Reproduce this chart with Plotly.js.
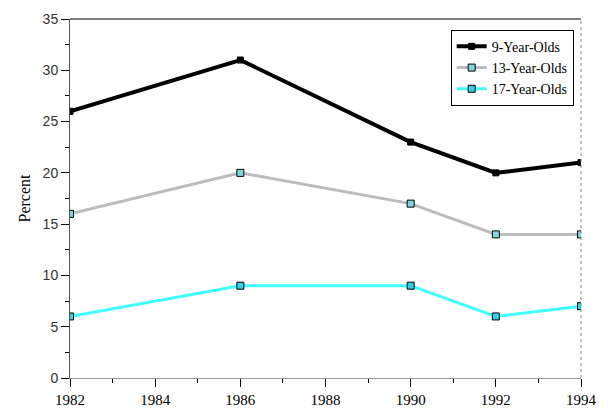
<!DOCTYPE html>
<html>
<head>
<meta charset="utf-8">
<script src="https://cdn.plot.ly/plotly-3.0.1.min.js"></script>
<style>html,body{margin:0;padding:0;background:#fff;}#chart{width:612px;height:415px;}</style>
</head>
<body>
<div id="chart"></div>
<script>
const years = [1982, 1986, 1990, 1992, 1994];
const age9 = [26, 31, 23, 20, 21];
const age13 = [16, 20, 17, 14, 14];
const age17 = [6, 9, 9, 6, 7];
const seriesNames = ['9-Year-Olds', '13-Year-Olds', '17-Year-Olds'];

const traces = [
  {x: years, y: age9, name: seriesNames[0], mode: 'lines+markers',
   line: {color: '#000000', width: 4},
   marker: {symbol: 'square', size: 6, color: '#000000', line: {color: '#000', width: 1}}},
  {x: years, y: age13, name: seriesNames[1], mode: 'lines+markers',
   line: {color: '#bcbcbc', width: 3},
   marker: {symbol: 'square', size: 7, color: '#7fd8e0', line: {color: '#000', width: 1}}},
  {x: years, y: age17, name: seriesNames[2], mode: 'lines+markers',
   line: {color: '#40ffff', width: 3},
   marker: {symbol: 'square', size: 7, color: '#30d0e8', line: {color: '#000', width: 1}}}
];

const layout = {
  width: 612, height: 415,
  margin: {l: 70, r: 31, t: 19, b: 37},
  paper_bgcolor: '#fff', plot_bgcolor: '#fff',
  showlegend: true,
  legend: {x: 0.745, y: 0.97, xanchor: 'left', yanchor: 'top',
    bordercolor: '#000', borderwidth: 1, bgcolor: '#fff',
    font: {family: 'Liberation Serif, Times New Roman, serif', size: 14, color: '#000'},
    tracegroupgap: 0},
  xaxis: {range: [1982, 1994], tickvals: [1982, 1984, 1986, 1988, 1990, 1992, 1994],
    ticks: 'outside', ticklen: 8, tickcolor: '#000', tickwidth: 1,
    minor: {dtick: 1, tick0: 1982, ticks: 'outside', ticklen: 4, tickcolor: '#000', showgrid: false},
    showline: true, linecolor: '#999', linewidth: 1, showgrid: false, zeroline: false,
    tickfont: {family: 'Liberation Serif, Times New Roman, serif', size: 15, color: '#000'}},
  yaxis: {range: [0, 35], dtick: 5, tick0: 0,
    ticks: 'outside', ticklen: 8, tickcolor: '#000', tickwidth: 1,
    minor: {dtick: 2.5, tick0: 0, ticks: 'outside', ticklen: 4, tickcolor: '#000', showgrid: false},
    showline: true, linecolor: '#555', linewidth: 1, showgrid: false, zeroline: false,
    tickfont: {family: 'Liberation Sans, Arial, sans-serif', size: 14, color: '#333'},
    title: {text: 'Percent', standoff: 8,
      font: {family: 'Liberation Serif, Times New Roman, serif', size: 16, color: '#000'}}},
  shapes: [
    {type: 'line', xref: 'paper', yref: 'paper', x0: 0, x1: 1, y0: 1, y1: 1,
     line: {color: '#000', width: 1}},
    {type: 'line', xref: 'paper', yref: 'paper', x0: 1, x1: 1, y0: 0, y1: 1,
     line: {color: '#888', width: 1, dash: 'dot'}}
  ]
};

Plotly.newPlot('chart', traces, layout, {displayModeBar: false, staticPlot: true});
</script>
</body>
</html>
